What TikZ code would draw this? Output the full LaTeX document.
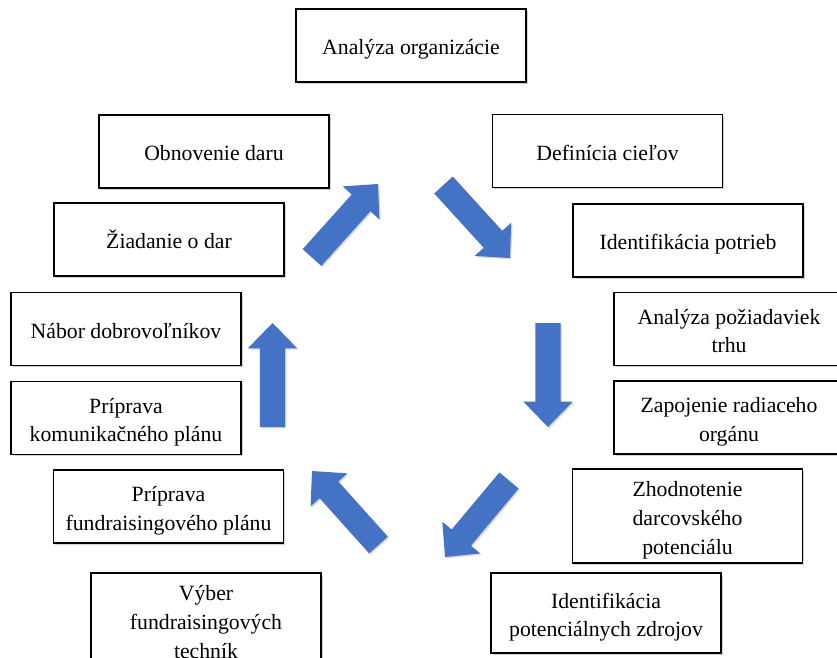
\documentclass[tikz,border=0pt]{standalone}
\usepackage{fontspec}
\setmainfont{Liberation Serif}
\usetikzlibrary{shadows,calc}
\definecolor{arrowblue}{HTML}{4472C4}
\newcommand\boxtext[1]{\raisebox{-2.8pt}[\height][\depth]{\begin{tabular}{@{}c@{}}#1\end{tabular}}}
\tikzset{
  stepbox/.style={draw=black, line width=1.1pt, fill=white, align=center,
    inner sep=0pt, minimum width=172.5pt, minimum height=54.75pt,
    font=\fontsize{16.3}{21.5}\selectfont,
    drop shadow={shadow xshift=1.4pt, shadow yshift=-1.4pt, opacity=0.35}},
  blockfill/.style={fill=arrowblue,
    drop shadow={shadow xshift=1pt, shadow yshift=-1pt, opacity=0.3}}
}
\newcommand\myblockarrow[2]{%
  \coordinate (T) at (#1);
  \coordinate (P) at (#2);
  \coordinate (B) at ($(P)!19pt!(T)$);
  \fill[blockfill] ($(T)!9.4pt!90:(P)$) -- ($(B)!9.4pt!-90:(T)$) --
    ($(B)!18.5pt!-90:(T)$) -- (P) -- ($(B)!18.5pt!90:(T)$) --
    ($(B)!9.4pt!90:(T)$) -- ($(T)!9.4pt!-90:(P)$) -- cycle;
}
\begin{document}
\begin{tikzpicture}[x=0.75pt,y=-0.75pt]
\useasboundingbox (0,0) rectangle (837,657);
\clip (0,0) rectangle (837,657);
\fill[white] (0,0) rectangle (837,657);

\node[stepbox] (n1) at (411,45.5) {\boxtext{Analýza organizácie}};
\node[stepbox] (n2) at (607.5,151) {\boxtext{Definícia cieľov}};
\node[stepbox] (n3) at (688,240.5) {\boxtext{Identifikácia potrieb}};
\node[stepbox] (n4) at (729,329) {\boxtext{Analýza požiadaviek\\trhu}};
\node[stepbox] (n5) at (729,417.5) {\boxtext{Zapojenie radiaceho\\orgánu}};
\node[stepbox, minimum height=70.5pt] (n6) at (687.5,516) {\boxtext{Zhodnotenie\\darcovského\\potenciálu}};
\node[stepbox, minimum height=60pt] (n7) at (606,613) {\boxtext{Identifikácia\\potenciálnych zdrojov}};
\node[stepbox, minimum height=70.5pt] (n8) at (206,620) {\boxtext{Výber\\fundraisingových\\techník}};
\node[stepbox] (n9) at (168.5,506.5) {\boxtext{Príprava\\fundraisingového plánu}};
\node[stepbox] (n10) at (126,418) {\boxtext{Príprava\\komunikačného plánu}};
\node[stepbox] (n11) at (126,329) {\boxtext{Nábor dobrovoľníkov}};
\node[stepbox] (n12) at (169,239.5) {\boxtext{Žiadanie o dar}};
\node[stepbox] (n13) at (214,151.5) {\boxtext{Obnovenie daru}};

\myblockarrow{312,257.5}{378,184}
\myblockarrow{443.5,185}{510,258}
\myblockarrow{548,323}{548,427}
\myblockarrow{509,480.5}{445,557}
\myblockarrow{378.5,545}{312,471}
\myblockarrow{272.5,427}{272.5,323}
\end{tikzpicture}
\end{document}
